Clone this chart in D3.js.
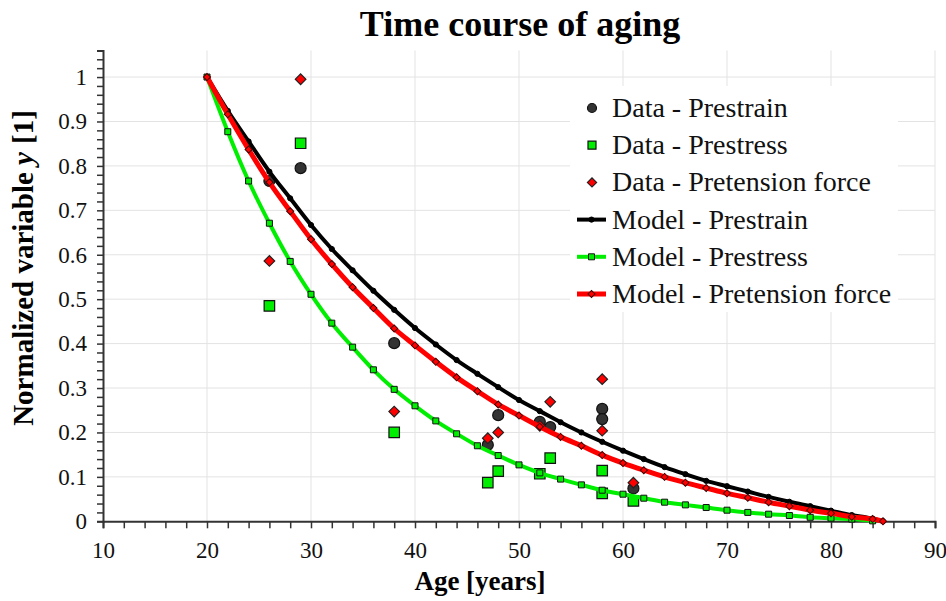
<!DOCTYPE html>
<html>
<head>
<meta charset="utf-8">
<script src="https://cdn.jsdelivr.net/npm/d3@7"></script>
<style>
  html, body { margin: 0; padding: 0; background: #fff; }
  svg { display: block; font-family: 'Liberation Serif', 'Times New Roman', serif; }
</style>
</head>
<body>
<div id="chart"></div>
<script>
// measured data (ages in years, normalized variable y)
const dataAges = [26, 29, 38, 47, 48, 52, 53, 58, 58, 61]
const dataPrestrain = [0.766, 0.795, 0.401, 0.172, 0.239, 0.224, 0.212, 0.253, 0.230, 0.074]
const dataPrestress = [0.485, 0.851, 0.200, 0.087, 0.113, 0.107, 0.142, 0.114, 0.063, 0.046]
const dataPretension = [0.586, 0.995, 0.247, 0.187, 0.200, 0.215, 0.269, 0.320, 0.204, 0.087]

// model curves, sampled every 2 years
const modelAges = [20, 22, 24, 26, 28, 30, 32, 34, 36, 38, 40, 42, 44, 46, 48, 50, 52, 54, 56, 58,
  60, 62, 64, 66, 68, 70, 72, 74, 76, 78, 80, 82, 84, 85]
const modelPrestrain = [1.0, 0.924, 0.855, 0.787, 0.727, 0.667, 0.613, 0.565, 0.519, 0.476,
  0.435, 0.398, 0.363, 0.332, 0.302, 0.273, 0.248, 0.223, 0.200, 0.179,
  0.159, 0.140, 0.122, 0.106, 0.091, 0.079, 0.067, 0.055, 0.044, 0.034, 0.024, 0.014, 0.006, 0]
const modelPrestress = [1.0, 0.877, 0.766, 0.671, 0.585, 0.511, 0.446, 0.392, 0.341, 0.297,
  0.260, 0.226, 0.197, 0.170, 0.148, 0.127, 0.109, 0.095, 0.082, 0.070,
  0.061, 0.052, 0.043, 0.037, 0.031, 0.025, 0.020, 0.016, 0.013, 0.009, 0.007, 0.005, 0.001]
const modelPretension = [1.0, 0.916, 0.837, 0.763, 0.698, 0.635, 0.579, 0.527, 0.480, 0.434,
  0.396, 0.359, 0.324, 0.293, 0.263, 0.238, 0.213, 0.190, 0.170, 0.149,
  0.131, 0.115, 0.100, 0.087, 0.075, 0.063, 0.053, 0.043, 0.034, 0.025, 0.018, 0.010, 0.005, 0]

const xTicks = [10, 20, 30, 40, 50, 60, 70, 80, 90]
const yTicks = [0, 0.1, 0.2, 0.3, 0.4, 0.5, 0.6, 0.7, 0.8, 0.9, 1]

const width = 946
const height = 601
const serif = "'Liberation Serif', 'Times New Roman', serif"
const black = '#000000'
const green = '#00ee00'
const red = '#ff0000'

const x = d3.scaleLinear().domain([10, 90]).range([103, 935])
const y = d3.scaleLinear().domain([0, 1.06]).range([521.3, 50.4])

const svg = d3.select('#chart')
  .append('svg')
  .attr('width', width)
  .attr('height', height)

// grid
const grid = svg.append('g').attr('stroke', '#e3e3e3').attr('stroke-width', 1)
grid.selectAll('line.v')
  .data(xTicks.slice(1))
  .join('line')
  .attr('x1', (d) => x(d)).attr('x2', (d) => x(d))
  .attr('y1', y(0)).attr('y2', y(1.06))
grid.selectAll('line.h')
  .data(yTicks.slice(1))
  .join('line')
  .attr('x1', x(10)).attr('x2', x(90))
  .attr('y1', (d) => y(d)).attr('y2', (d) => y(d))

// axes
const xAxis = d3.axisBottom(x)
  .tickValues(d3.range(10, 90.1, 2))
  .tickSize(7)
  .tickFormat((d) => (d % 10 === 0 ? d : ''))
const gx = svg.append('g').attr('transform', `translate(0,${y(0)})`).call(xAxis)

const yAxis = d3.axisLeft(y)
  .tickValues(d3.range(0, 1.061, 0.02).map((d) => +d.toFixed(2)))
  .tickSize(6)
  .tickFormat((d) => (Math.abs(d * 10 - Math.round(d * 10)) < 1e-6 && d <= 1 ? d3.format('')(+d.toFixed(1)) : ''))
const gy = svg.append('g').attr('transform', `translate(${x(10)},0)`).call(yAxis)

;[gx, gy].forEach((g) => {
  g.attr('font-family', serif)
  g.select('.domain').attr('stroke', '#333').attr('stroke-width', 2)
  g.selectAll('.tick line').attr('stroke', '#333').attr('stroke-width', 1.5)
  g.selectAll('.tick text')
    .attr('fill', '#111')
    .attr('font-size', 23)
    .attr('font-family', serif)
})
gx.selectAll('.tick text').attr('dy', '1.15em')
gy.selectAll('.tick text').attr('dx', '-0.3em')

// symbol helpers
const circle = (r) => d3.symbol().type(d3.symbolCircle).size(Math.PI * r * r)
const square = (s) => d3.symbol().type(d3.symbolSquare).size(s * s)

// data markers
const dataSeries = [
  { values: dataPrestrain, fill: '#333333', stroke: '#111', path: circle(5.5)(), turn: false },
  { values: dataPrestress, fill: green, stroke: '#111', path: square(10.5)(), turn: false },
  { values: dataPretension, fill: red, stroke: '#222', path: square(7.5)(), turn: true }
]
dataSeries.forEach((s) => {
  svg.append('g')
    .selectAll('path')
    .data(dataAges.map((a, i) => [a, s.values[i]]))
    .join('path')
    .attr('d', s.path)
    .attr('transform', (d) => `translate(${x(d[0])},${y(d[1])})${s.turn ? ' rotate(45)' : ''}`)
    .attr('fill', s.fill)
    .attr('stroke', s.stroke)
    .attr('stroke-width', 1.2)
})

// model curves
const line = d3.line().x((d) => x(d[0])).y((d) => y(d[1])).curve(d3.curveMonotoneX)
const modelSeries = [
  { values: modelPrestrain, color: black, width: 4, marker: circle(2.6)(), mFill: black, mStroke: black, turn: false },
  { values: modelPrestress, color: green, width: 4, marker: square(6)(), mFill: green, mStroke: '#111', turn: false },
  { values: modelPretension, color: red, width: 5, marker: square(5)(), mFill: red, mStroke: '#400', turn: true }
]
modelSeries.forEach((s) => {
  const pts = s.values.map((v, i) => [modelAges[i], v])
  svg.append('path')
    .datum(pts)
    .attr('d', line)
    .attr('fill', 'none')
    .attr('stroke', s.color)
    .attr('stroke-width', s.width)
  svg.append('g')
    .selectAll('path')
    .data(pts)
    .join('path')
    .attr('d', s.marker)
    .attr('transform', (d) => `translate(${x(d[0])},${y(d[1])})${s.turn ? ' rotate(45)' : ''}`)
    .attr('fill', s.mFill)
    .attr('stroke', s.mStroke)
    .attr('stroke-width', 1)
})

// legend
const legend = svg.append('g')
legend.append('rect')
  .attr('x', 570).attr('y', 86).attr('width', 328).attr('height', 226)
  .attr('fill', '#fff')
const legendItems = [
  { label: 'Data - Prestrain', kind: 'data', s: dataSeries[0] },
  { label: 'Data - Prestress', kind: 'data', s: dataSeries[1] },
  { label: 'Data - Pretension force', kind: 'data', s: dataSeries[2] },
  { label: 'Model - Prestrain', kind: 'model', s: modelSeries[0] },
  { label: 'Model - Prestress', kind: 'model', s: modelSeries[1] },
  { label: 'Model - Pretension force', kind: 'model', s: modelSeries[2] }
]
legendItems.forEach((item, i) => {
  const cy = 108 + i * 37.2
  const g = legend.append('g')
  if (item.kind === 'data') {
    const sym = [circle(4.5)(), square(8)(), square(6.5)()][i]
    g.append('path')
      .attr('d', sym)
      .attr('transform', `translate(592,${cy})${item.s.turn ? ' rotate(45)' : ''}`)
      .attr('fill', item.s.fill)
      .attr('stroke', item.s.stroke)
      .attr('stroke-width', 1.2)
  } else {
    g.append('line')
      .attr('x1', 577).attr('x2', 606)
      .attr('y1', cy).attr('y2', cy)
      .attr('stroke', item.s.color)
      .attr('stroke-width', item.s.width)
    g.append('path')
      .attr('d', item.s.marker)
      .attr('transform', `translate(591.5,${cy})${item.s.turn ? ' rotate(45)' : ''}`)
      .attr('fill', item.s.mFill)
      .attr('stroke', item.s.mStroke)
      .attr('stroke-width', 1)
  }
  g.append('text')
    .attr('x', 612)
    .attr('y', cy + 9)
    .attr('font-size', 28)
    .attr('font-family', serif)
    .attr('fill', '#111')
    .text(item.label)
})

// titles
svg.append('text')
  .attr('x', 520).attr('y', 36)
  .attr('text-anchor', 'middle')
  .attr('font-size', 36)
  .attr('font-weight', 'bold')
  .attr('font-family', serif)
  .text('Time course of aging')

svg.append('text')
  .attr('x', 480).attr('y', 590)
  .attr('text-anchor', 'middle')
  .attr('font-size', 27)
  .attr('font-weight', 'bold')
  .attr('font-family', serif)
  .text('Age [years]')

const yl = svg.append('text')
  .attr('transform', 'translate(33,268) rotate(-90)')
  .attr('text-anchor', 'middle')
  .attr('font-size', 29)
  .attr('font-weight', 'bold')
  .attr('font-family', serif)
yl.append('tspan').text('Normalized variable ')
yl.append('tspan').attr('font-style', 'italic').text('y')
yl.append('tspan').attr('dx', 8).text('[1]')
</script>
</body>
</html>
